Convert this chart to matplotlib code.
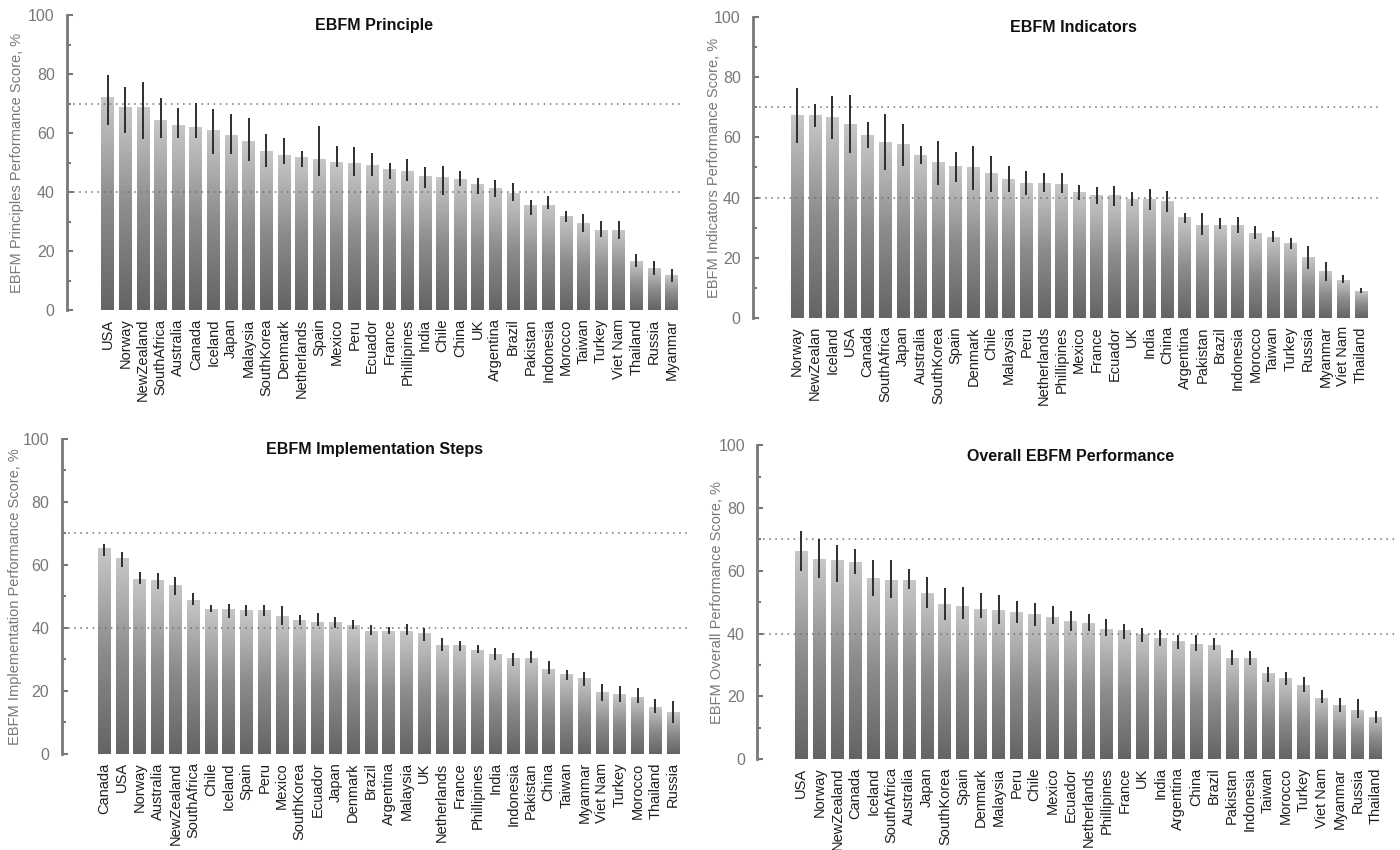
import numpy as np
import matplotlib
matplotlib.use('Agg')
import matplotlib.pyplot as plt
from matplotlib.colors import LinearSegmentedColormap

plt.rcParams['font.family'] = ['Liberation Sans', 'DejaVu Sans']

# EBFM Principle
countries_principle = ['USA', 'Norway', 'NewZealand', 'SouthAfrica', 'Australia', 'Canada', 'Iceland',
                       'Japan', 'Malaysia', 'SouthKorea', 'Denmark', 'Netherlands', 'Spain', 'Mexico',
                       'Peru', 'Ecuador', 'France', 'Phillipines', 'India', 'Chile', 'China', 'UK',
                       'Argentina', 'Brazil', 'Pakistan', 'Indonesia', 'Morocco', 'Taiwan', 'Turkey',
                       'Viet Nam', 'Thailand', 'Russia', 'Myanmar']
score_principle = [72.3, 68.8, 68.8, 64.6, 62.9, 62.1, 61.1, 59.4, 57.3, 53.9, 52.5, 51.9, 51.2, 50.1,
                   50.0, 49.2, 48.0, 47.3, 45.6, 45.3, 44.4, 42.8, 41.6, 39.8, 35.8, 35.8, 31.9, 29.7,
                   27.3, 27.1, 16.6, 14.2, 11.8]
low_principle = [62.7, 60.2, 57.9, 58.4, 58.5, 58.3, 53.1, 53.0, 50.6, 48.5, 49.7, 48.5, 45.5, 48.4,
                 45.5, 45.5, 44.4, 43.7, 41.6, 39.0, 42.1, 39.3, 38.4, 37.2, 32.4, 34.3, 29.8, 26.6,
                 24.9, 24.3, 14.6, 11.8, 9.6]
high_principle = [79.7, 75.8, 77.3, 71.8, 68.5, 70.2, 68.1, 66.7, 65.3, 59.8, 58.3, 53.9, 62.6, 55.7,
                  55.4, 53.4, 50.0, 51.4, 48.6, 48.8, 47.2, 45.0, 44.0, 43.2, 37.5, 38.8, 33.6, 32.8,
                  30.2, 30.2, 19.0, 16.7, 13.9]

# EBFM Indicators
countries_indicators = ['Norway', 'NewZealan', 'Iceland', 'USA', 'Canada', 'SouthAfrica', 'Japan',
                        'Australia', 'SouthKorea', 'Spain', 'Denmark', 'Chile', 'Malaysia', 'Peru',
                        'Netherlands', 'Phillipines', 'Mexico', 'France', 'Ecuador', 'UK', 'India',
                        'China', 'Argentina', 'Pakistan', 'Brazil', 'Indonesia', 'Morocco', 'Taiwan',
                        'Turkey', 'Russia', 'Myanmar', 'Viet Nam', 'Thailand']
score_indicators = [67.5, 67.5, 66.7, 64.5, 60.8, 58.6, 57.9, 54.1, 51.7, 50.5, 50.2, 48.0, 46.1, 44.8,
                    44.8, 44.5, 41.8, 40.7, 40.7, 39.6, 39.6, 38.9, 33.5, 31.0, 31.0, 30.8, 28.1, 27.0,
                    24.8, 20.1, 15.5, 12.6, 9.1]
low_indicators = [58.0, 63.3, 59.3, 54.7, 56.4, 49.2, 50.6, 51.3, 44.1, 45.3, 42.4, 42.0, 41.7, 40.9,
                  41.7, 41.4, 39.3, 37.8, 37.3, 37.3, 36.0, 35.2, 31.7, 27.6, 29.4, 28.1, 26.1, 25.2,
                  22.9, 16.4, 12.4, 11.6, 8.3]
high_indicators = [76.5, 71.2, 73.7, 74.1, 65.2, 67.8, 64.5, 57.2, 58.8, 55.0, 57.2, 53.9, 50.6, 48.8,
                   48.0, 48.0, 44.3, 43.5, 44.0, 41.8, 42.9, 42.2, 34.8, 34.9, 33.1, 33.6, 30.5, 28.8,
                   26.6, 23.9, 18.5, 14.1, 9.8]

# EBFM Implementation Steps
countries_steps = ['Canada', 'USA', 'Norway', 'Australia', 'NewZealand', 'SouthAfrica', 'Chile',
                   'Iceland', 'Spain', 'Peru', 'Mexico', 'SouthKorea', 'Ecuador', 'Japan', 'Denmark',
                   'Brazil', 'Argentina', 'Malaysia', 'UK', 'Netherlands', 'France', 'Phillipines',
                   'India', 'Indonesia', 'Pakistan', 'China', 'Taiwan', 'Myanmar', 'Viet Nam',
                   'Turkey', 'Morocco', 'Thailand', 'Russia']
score_steps = [65.3, 62.2, 55.6, 55.2, 53.7, 48.9, 46.1, 46.1, 45.5, 45.5, 43.9, 42.5, 42.0, 42.0,
               40.8, 39.1, 38.9, 38.9, 38.3, 34.7, 34.5, 33.0, 31.8, 30.4, 30.4, 27.0, 25.5, 24.1,
               19.5, 19.0, 18.2, 14.9, 13.3]
low_steps = [62.7, 59.2, 53.9, 52.2, 50.3, 47.3, 44.9, 43.1, 43.9, 43.9, 41.0, 41.0, 40.6, 40.0,
             39.6, 37.8, 38.1, 37.8, 35.7, 32.6, 32.8, 32.0, 29.9, 27.8, 28.9, 25.4, 23.6, 21.5,
             16.9, 16.5, 16.2, 13.0, 9.8]
high_steps = [66.7, 64.1, 57.7, 57.4, 56.0, 51.0, 47.3, 47.6, 47.3, 47.3, 46.8, 44.1, 44.7, 43.3,
              42.4, 40.8, 40.3, 41.2, 40.0, 36.8, 35.9, 34.5, 33.6, 32.0, 32.8, 29.6, 26.7, 25.9,
              22.3, 21.7, 20.9, 17.4, 16.7]

# Overall EBFM Performance
countries_overall = ['USA', 'Norway', 'NewZealand', 'Canada', 'Iceland', 'SouthAfrica', 'Australia',
                     'Japan', 'SouthKorea', 'Spain', 'Denmark', 'Malaysia', 'Peru', 'Chile', 'Mexico',
                     'Ecuador', 'Netherlands', 'Phillipines', 'France', 'UK', 'India', 'Argentina',
                     'China', 'Brazil', 'Pakistan', 'Indonesia', 'Taiwan', 'Morocco', 'Turkey',
                     'Viet Nam', 'Myanmar', 'Russia', 'Thailand']
score_overall = [66.2, 63.9, 63.4, 62.7, 57.7, 57.0, 57.0, 53.0, 49.3, 48.7, 47.8, 47.5, 46.8, 46.4,
                 45.3, 43.9, 43.5, 41.6, 41.0, 39.9, 38.7, 37.7, 36.8, 36.4, 32.3, 32.3, 27.5, 25.7,
                 23.6, 19.6, 17.1, 15.7, 13.5]
low_overall = [59.9, 57.7, 56.5, 58.9, 51.9, 51.2, 54.1, 48.2, 44.4, 44.8, 45.0, 42.9, 43.4, 42.5,
               43.2, 40.7, 40.7, 39.1, 38.4, 37.3, 36.0, 35.2, 34.3, 34.7, 29.9, 29.9, 24.5, 23.6,
               21.3, 18.0, 15.1, 13.1, 11.4]
high_overall = [72.6, 70.0, 68.4, 67.1, 63.4, 63.4, 60.7, 58.1, 54.4, 54.9, 52.8, 52.3, 50.4, 49.8,
                48.8, 47.2, 46.1, 44.6, 43.0, 41.9, 41.3, 39.4, 39.6, 38.7, 34.8, 34.5, 29.4, 27.9,
                26.2, 21.9, 19.4, 19.0, 15.2]

grey_cmap = LinearSegmentedColormap.from_list('bar_grey', ['#646464', '#8c8c8c', '#c8c8c8'])
axis_grey = '#787878'


def draw_panel(ax, names, vals, lo, hi, title, ylabel, xlim, title_x, label_x):
    x = np.arange(len(names))
    vals = np.array(vals)
    yerr = [vals - np.array(lo), np.array(hi) - vals]
    bars = ax.bar(x, vals, width=0.72, color='none', edgecolor='none', zorder=1)
    # vertical grey gradient inside every bar
    grad = np.linspace(0, 1, 256).reshape(-1, 1)
    for b in bars:
        x0 = b.get_x()
        im = ax.imshow(grad, cmap=grey_cmap, origin='lower', aspect='auto',
                       extent=[x0, x0 + b.get_width(), 0, b.get_height()], zorder=1)
        im.set_clip_path(b)
    ax.errorbar(x, vals, yerr=yerr, fmt='none', ecolor='#2e2e2e', elinewidth=1.4,
                capsize=0, zorder=3)
    for yl in (70, 40):
        ax.axhline(yl, color='#707070', linestyle=(0, (1, 3)), linewidth=1.1, zorder=2)

    ax.set_xlim(*xlim)
    ax.set_ylim(0, 100)
    ax.set_xticks(x)
    ax.set_xticklabels(names, rotation=90, fontsize=10.5, color='#1e1e1e')
    ax.tick_params(axis='x', length=0, pad=6)
    ax.set_yticks(range(0, 101, 20))
    ax.set_yticks(range(10, 100, 20), minor=True)
    ax.tick_params(axis='y', which='both', direction='in', color=axis_grey, width=1.5,
                   labelcolor=axis_grey, labelsize=11.5, pad=9)
    ax.tick_params(axis='y', which='major', length=4)
    ax.tick_params(axis='y', which='minor', length=3)
    for s in ('top', 'right', 'bottom'):
        ax.spines[s].set_visible(False)
    ax.spines['left'].set_color(axis_grey)
    ax.spines['left'].set_linewidth(2)
    ax.set_ylabel(ylabel, fontsize=10.5, color=axis_grey)
    ax.yaxis.set_label_coords(label_x, 0.5)
    ax.text(title_x, 0.965, title, transform=ax.transAxes, ha='center', va='center',
            fontsize=11.5, fontweight='bold', color='#111111')


fig = plt.figure(figsize=(14, 8.5), dpi=100)

ax1 = fig.add_axes([0.048, 0.635, 0.438, 0.347])
draw_panel(ax1, countries_principle, score_principle, low_principle, high_principle,
           'EBFM Principle', 'EBFM Principles Performance Score, %', (-2.3, 32.5), 0.5, -0.07)

ax2 = fig.add_axes([0.538, 0.626, 0.448, 0.354])
draw_panel(ax2, countries_indicators, score_indicators, low_indicators, high_indicators,
           'EBFM Indicators', 'EBFM Indicators Performance Score, %', (-2.5, 33.1), 0.51, -0.051)

ax3 = fig.add_axes([0.044, 0.113, 0.447, 0.371])
draw_panel(ax3, countries_steps, score_steps, low_steps, high_steps,
           'EBFM Implementation Steps', 'EBFM Implementation Performance Score, %', (-2.4, 32.8),
           0.5, -0.064)

ax4 = fig.add_axes([0.541, 0.107, 0.457, 0.369])
draw_panel(ax4, countries_overall, score_overall, low_overall, high_overall,
           'Overall EBFM Performance', 'EBFM Overall Performance Score, %', (-2.45, 33.2),
           0.49, -0.052)

fig.savefig('out.png', dpi=100, facecolor='white')
